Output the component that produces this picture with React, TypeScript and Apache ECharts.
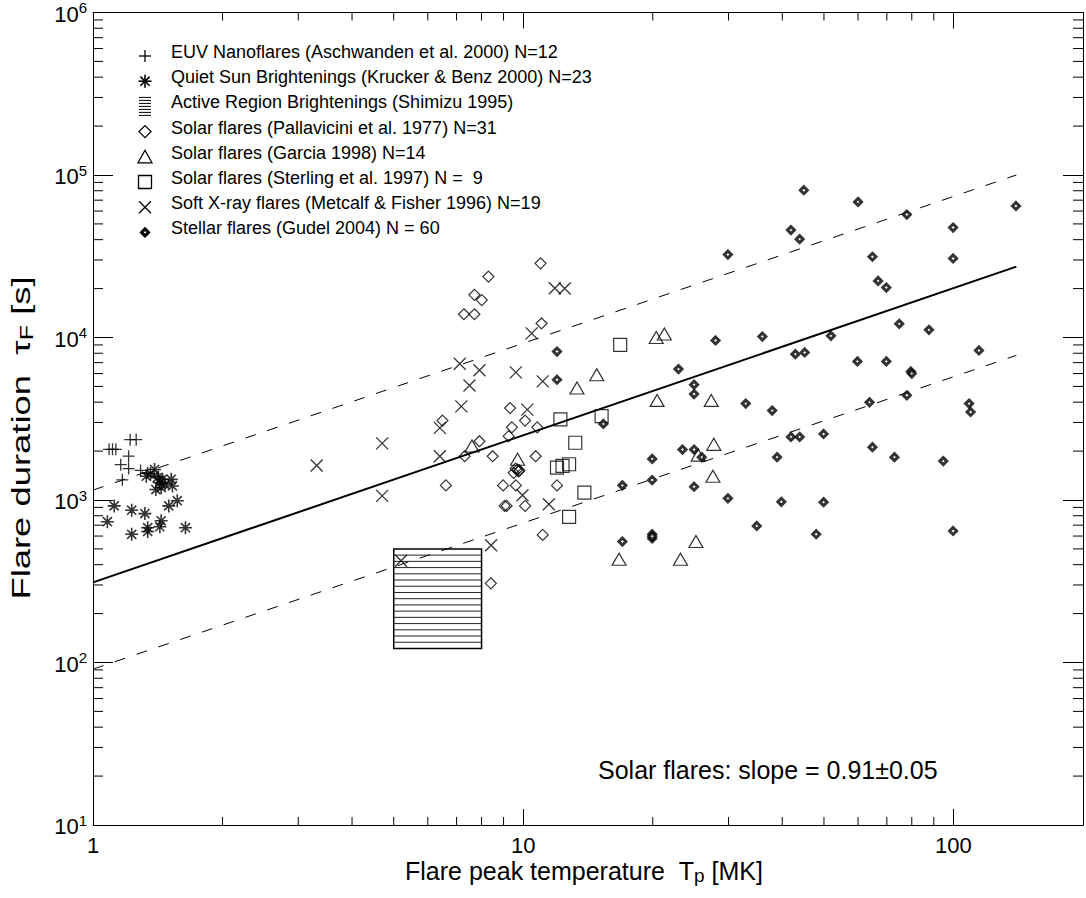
import React, { useEffect, useRef } from 'react';
import * as echarts from 'echarts';

const FONT = '"Liberation Sans", Arial, Helvetica, sans-serif';

// ---- axes ----
const xRange = [1, 200];
const yRange = [10, 1e6];
const xLabelValues = [1, 10, 100];
const xMinorTicks = [2, 3, 4, 5, 6, 7, 8, 9, 20, 30, 40, 50, 60, 70, 80, 90];
const yDecades = [10, 100, 1000, 10000, 100000];
const minorSteps = [2, 3, 4, 5, 6, 7, 8, 9];
const yMinorTicks = yDecades.flatMap((d) => minorSteps.map((m) => m * d));

// ---- data: [T (MK), tau (s)] ----
const euvNanoflares = [
  [1.09, 2050], [1.11, 2050], [1.13, 2050], [1.22, 2350], [1.26, 2350], [1.21, 1860],
  [1.16, 1650], [1.21, 1560], [1.29, 1520], [1.17, 1330], [1.34, 1470], [1.42, 1400],
];
const quietSun = [
  [1.39, 1540], [1.33, 1400], [1.43, 1280], [1.40, 1160], [1.52, 1340], [1.53, 1220],
  [1.45, 1340], [1.57, 990], [1.50, 920], [1.12, 920], [1.23, 865], [1.32, 825],
  [1.08, 735], [1.44, 745], [1.34, 675], [1.43, 685], [1.64, 675], [1.23, 615],
  [1.34, 640], [1.41, 1370], [1.44, 1190], [1.36, 1450], [1.47, 1250],
];
const pallavicini = [
  [10.97, 28600], [8.30, 23700], [7.70, 18300], [8.01, 17000], [7.28, 13900], [7.70, 13900],
  [11.03, 12200], [6.49, 3080], [9.32, 3680], [10.1, 3080], [9.41, 2800], [9.25, 2470],
  [10.78, 2800], [7.91, 2300], [8.49, 1860], [7.31, 1860], [10.69, 1860], [9.60, 1560],
  [9.70, 1540], [9.80, 1520], [9.75, 1500], [6.61, 1230], [8.98, 1230], [9.61, 1230],
  [11.98, 1230], [9.05, 920], [9.15, 920], [10.1, 920], [11.1, 610], [8.41, 307], [9.5, 1470],
];
const garcia = [
  [7.60, 2150], [9.70, 1780], [13.33, 4890], [14.82, 5900], [20.37, 10000], [21.28, 10500],
  [20.47, 4100], [27.35, 4100], [27.73, 2200], [25.5, 1890], [27.6, 1400], [25.2, 555],
  [16.7, 432], [23.2, 432],
];
const sterling = [
  [16.8, 9000], [12.2, 3130], [15.21, 3280], [13.21, 2250], [11.98, 1580], [12.34, 1620],
  [12.78, 1660], [13.87, 1110], [12.78, 787],
];
const metcalf = [
  [11.84, 20100], [12.48, 20000], [10.46, 10600], [7.12, 6900], [7.91, 6280], [9.61, 6100],
  [7.50, 5060], [11.1, 5370], [7.18, 3770], [10.22, 3600], [6.40, 2780], [4.70, 2230],
  [6.40, 1860], [4.70, 1060], [9.96, 1070], [11.47, 942], [8.42, 527], [5.20, 423], [3.31, 1630],
];
const stellar = [
  [11.98, 8200], [11.98, 5500], [15.35, 2940], [27.99, 9590], [35.96, 10140], [51.9, 10240],
  [74.8, 12130], [87.7, 11150], [114.6, 8320], [42.9, 7900], [45.1, 8090], [22.95, 6390],
  [59.8, 7125], [69.8, 7125], [79.6, 6180], [80.0, 6000], [24.95, 5125], [24.95, 4490],
  [32.9, 3920], [37.9, 3550], [63.8, 3990], [77.9, 4410], [108.7, 3920], [109.6, 3480],
  [41.9, 2445], [43.9, 2445], [49.9, 2550], [23.45, 2045], [24.95, 2045], [26.0, 1835],
  [19.94, 1790], [38.9, 1835], [64.8, 2115], [72.9, 1835], [94.7, 1735], [19.94, 1327],
  [17.0, 1231], [24.95, 1207], [29.9, 1024], [39.8, 975], [49.9, 970], [34.9, 692],
  [47.96, 616], [99.8, 645], [17.0, 555], [19.94, 616], [19.94, 580], [19.94, 598],
  [44.9, 80600], [60.0, 68300], [139.7, 64500], [77.9, 57100], [41.9, 45800], [43.9, 40300],
  [99.8, 47500], [29.9, 32400], [64.8, 31400], [99.8, 30650], [66.8, 22300], [69.8, 20300],
];

// fit lines (values at both ends)
const fitT = [1, 140];
const fitSolid = [311, 27300];
const fitUpper = [1150, 100000];
const fitLower = [91, 7760];

// Active region brightenings box: Tmin, Tmax, tauMin, tauMax
const activeRegionBox = [5, 8, 122, 500];

const legendLabels = [
  'EUV Nanoflares (Aschwanden et al. 2000) N=12',
  'Quiet Sun Brightenings (Krucker & Benz 2000) N=23',
  'Active Region Brightenings (Shimizu 1995)',
  'Solar flares (Pallavicini et al. 1977) N=31',
  'Solar flares (Garcia 1998) N=14',
  'Solar flares (Sterling et al. 1997) N =\u00A0\u00A09',
  'Soft X-ray flares (Metcalf & Fisher 1996) N=19',
  'Stellar flares (Gudel 2004) N = 60',
];
const legendKinds = ['plus', 'asterisk', 'hatch', 'diamond', 'triangle', 'square', 'cross', 'stellar'];
const slopeLabel = 'Solar flares: slope = 0.91\u00B10.05';

function measureText(text: string, size: number): number {
  const ctx = document.createElement('canvas').getContext('2d');
  if (!ctx) return text.length * size * 0.5;
  ctx.font = `${size}px "Liberation Sans"`;
  return ctx.measureText(text).width;
}

type Part = { t: string; size: number; dy: number };

function composeText(parts: Part[], cx: number, cy: number, rotate: boolean, stretch = 1) {
  const widths = parts.map((p) => measureText(p.t, p.size));
  const total = widths.reduce((a, b) => a + b, 0);
  let x = -total / 2;
  const children = parts.map((p, i) => {
    const el = {
      type: 'text',
      x,
      y: p.dy,
      silent: true,
      style: {
        text: p.t, fontSize: p.size, fontFamily: FONT, fill: '#000',
        align: 'left', verticalAlign: 'middle', lineHeight: Math.round(p.size * 0.8),
      },
    };
    x += widths[i];
    return el;
  });
  return {
    type: 'group', x: cx, y: cy, rotation: rotate ? Math.PI / 2 : 0,
    scaleX: stretch, scaleY: 1, children,
  };
}

function ln(x1: number, y1: number, x2: number, y2: number, w = 1.3) {
  return { type: 'line', silent: true, shape: { x1, y1, x2, y2 }, style: { stroke: '#000', lineWidth: w } };
}

function legendSymbol(kind: string, cx: number, cy: number): any[] {
  const open = { stroke: '#000', lineWidth: 1.3, fill: 'none' };
  switch (kind) {
    case 'plus':
      return [ln(cx - 6, cy, cx + 6, cy), ln(cx, cy - 6, cx, cy + 6)];
    case 'asterisk':
      return [
        ln(cx - 6.5, cy, cx + 6.5, cy, 1.6), ln(cx, cy - 6.5, cx, cy + 6.5, 1.6),
        ln(cx - 4.6, cy - 4.6, cx + 4.6, cy + 4.6, 1.6), ln(cx + 4.6, cy - 4.6, cx - 4.6, cy + 4.6, 1.6),
      ];
    case 'hatch':
      return [0, 1, 2, 3, 4, 5, 6].map((i) => ln(cx - 6, cy - 9 + i * 3, cx + 6, cy - 9 + i * 3, 1));
    case 'diamond':
      return [{ type: 'polygon', silent: true, shape: { points: [[cx, cy - 6], [cx + 6, cy], [cx, cy + 6], [cx - 6, cy]] }, style: open }];
    case 'triangle':
      return [{ type: 'polygon', silent: true, shape: { points: [[cx, cy - 6.5], [cx + 7, cy + 6], [cx - 7, cy + 6]] }, style: open }];
    case 'square':
      return [{ type: 'rect', silent: true, shape: { x: cx - 6.5, y: cy - 6.5, width: 13, height: 13 }, style: open }];
    case 'cross':
      return [ln(cx - 6, cy - 6, cx + 6, cy + 6), ln(cx + 6, cy - 6, cx - 6, cy + 6)];
    case 'stellar':
      return [{ type: 'polygon', silent: true, shape: { points: [[cx, cy - 3.5], [cx + 3.5, cy], [cx, cy + 3.5], [cx - 3.5, cy]] }, style: { stroke: '#000', lineWidth: 3, fill: '#fff' } }];
  }
  return [];
}

function buildOption() {
  const openStyle = (w: number) => ({ color: 'rgba(0,0,0,0)', borderColor: '#000', borderWidth: w });
  const scatterBase = { type: 'scatter', silent: true, xAxisIndex: 0, yAxisIndex: 0, z: 5 };

  const legendGraphics: any[] = [];
  legendLabels.forEach((label, i) => {
    const ty = 52 + 25.2 * i;
    legendGraphics.push(...legendSymbol(legendKinds[i], 145, ty + 4));
    legendGraphics.push({
      type: 'text', silent: true, x: 171, y: ty,
      style: { text: label, fontSize: 18, fontFamily: FONT, fill: '#000', align: 'left', verticalAlign: 'middle', lineHeight: 16 },
    });
  });

  const xTitle = composeText(
    [
      { t: 'Flare peak temperature\u00A0\u00A0T', size: 25, dy: 0 },
      { t: 'p', size: 19, dy: 4 },
      { t: '\u00A0[MK]', size: 25, dy: 0 },
    ],
    584, 871, false
  );
  const yTitle = composeText(
    [
      { t: 'Flare duration\u00A0\u00A0\u03C4', size: 26, dy: 0 },
      { t: 'F', size: 18, dy: 6 },
      { t: '\u00A0[s]', size: 26, dy: 0 },
    ],
    21, 438, true, 1.4
  );

  const axisCommonX = {
    type: 'log', logBase: 10, min: xRange[0], max: xRange[1],
    splitLine: { show: false }, minorTick: { show: false },
    axisLine: { show: true, onZero: false, lineStyle: { color: '#000', width: 1 } },
    axisTick: { show: true, inside: true, length: 16, lineStyle: { color: '#000', width: 1 } },
  };
  const axisCommonY = {
    type: 'log', logBase: 10, min: yRange[0], max: yRange[1],
    splitLine: { show: false }, minorTick: { show: false },
    axisLine: { show: true, onZero: false, lineStyle: { color: '#000', width: 1 } },
    axisTick: { show: true, inside: true, length: 20, lineStyle: { color: '#000', width: 1 } },
  };

  return {
    animation: false,
    backgroundColor: '#fff',
    grid: { left: 93, top: 10, width: 1000, height: 815, containLabel: false },
    xAxis: [
      {
        ...axisCommonX, position: 'bottom',
        axisLabel: {
          fontSize: 22, fontFamily: FONT, color: '#000', margin: 11, lineHeight: 18,
          formatter: (v: number) => (xLabelValues.some((l) => Math.abs(l - v) < 1e-6 * l) ? String(Math.round(v)) : ''),
        },
      },
      { ...axisCommonX, position: 'top', axisLabel: { show: false } },
    ],
    yAxis: [
      {
        ...axisCommonY, position: 'left',
        axisLabel: {
          margin: 6,
          formatter: (v: number) => `{b|10}{s|${Math.round(Math.log10(v))}}`,
          rich: {
            b: { fontSize: 22, fontFamily: FONT, color: '#000', verticalAlign: 'bottom' },
            s: { fontSize: 15, fontFamily: FONT, color: '#000', verticalAlign: 'bottom', padding: [0, 0, 10, 0] },
          },
        },
      },
      { ...axisCommonY, position: 'right', axisLabel: { show: false } },
    ],
    graphic: [
      ...legendGraphics,
      xTitle,
      yTitle,
      {
        type: 'text', silent: true, x: 598, y: 770,
        style: { text: slopeLabel, fontSize: 25, fontFamily: FONT, fill: '#000', align: 'left', verticalAlign: 'middle' },
      },
    ],
    series: [
      {
        type: 'custom', silent: true, xAxisIndex: 0, yAxisIndex: 0, z: 3,
        data: xMinorTicks.map((v) => [v, yRange[0]]),
        renderItem: (_p: any, api: any) => {
          const v = api.value(0);
          const b = api.coord([v, yRange[0]]);
          const t = api.coord([v, yRange[1]]);
          return {
            type: 'group',
            children: [
              { type: 'line', shape: { x1: b[0], y1: b[1], x2: b[0], y2: b[1] - 8 }, style: { stroke: '#000', lineWidth: 1 } },
              { type: 'line', shape: { x1: t[0], y1: t[1], x2: t[0], y2: t[1] + 8 }, style: { stroke: '#000', lineWidth: 1 } },
            ],
          };
        },
      },
      {
        type: 'custom', silent: true, xAxisIndex: 0, yAxisIndex: 0, z: 3,
        data: yMinorTicks.map((v) => [xRange[0], v]),
        renderItem: (_p: any, api: any) => {
          const v = api.value(1);
          const l = api.coord([xRange[0], v]);
          const r = api.coord([xRange[1], v]);
          return {
            type: 'group',
            children: [
              { type: 'line', shape: { x1: l[0], y1: l[1], x2: l[0] + 10, y2: l[1] }, style: { stroke: '#000', lineWidth: 1 } },
              { type: 'line', shape: { x1: r[0], y1: r[1], x2: r[0] - 10, y2: r[1] }, style: { stroke: '#000', lineWidth: 1 } },
            ],
          };
        },
      },
      {
        type: 'custom', silent: true, xAxisIndex: 0, yAxisIndex: 0, z: 4,
        data: [activeRegionBox],
        renderItem: (_p: any, api: any) => {
          const p0 = api.coord([api.value(0), api.value(3)]);
          const p1 = api.coord([api.value(1), api.value(2)]);
          const n = 16;
          const children: any[] = [
            { type: 'rect', shape: { x: p0[0], y: p0[1], width: p1[0] - p0[0], height: p1[1] - p0[1] }, style: { fill: 'none', stroke: '#000', lineWidth: 1.5 } },
          ];
          for (let i = 1; i < n; i++) {
            const y = p0[1] + (i * (p1[1] - p0[1])) / n;
            children.push({ type: 'line', shape: { x1: p0[0], y1: y, x2: p1[0], y2: y }, style: { stroke: '#222', lineWidth: 1 } });
          }
          return { type: 'group', children };
        },
      },
      {
        type: 'line', silent: true, z: 4, showSymbol: false, symbol: 'none',
        data: fitT.map((t, i) => [t, fitSolid[i]]),
        lineStyle: { color: '#000', width: 2 },
      },
      {
        type: 'line', silent: true, z: 4, showSymbol: false, symbol: 'none',
        data: fitT.map((t, i) => [t, fitUpper[i]]),
        lineStyle: { color: '#000', width: 1, type: [11, 12] },
      },
      {
        type: 'line', silent: true, z: 4, showSymbol: false, symbol: 'none',
        data: fitT.map((t, i) => [t, fitLower[i]]),
        lineStyle: { color: '#000', width: 1, type: [11, 12] },
      },
      { ...scatterBase, name: 'EUV', data: euvNanoflares, symbol: 'path://M5 0L5 10M0 5L10 5', symbolSize: 12, itemStyle: openStyle(1.3) },
      { ...scatterBase, name: 'QS', data: quietSun, symbol: 'path://M5 0L5 10M0 5L10 5M1.5 1.5L8.5 8.5M8.5 1.5L1.5 8.5', symbolSize: 13, itemStyle: openStyle(1.6) },
      { ...scatterBase, name: 'Pallavicini', data: pallavicini, symbol: 'diamond', symbolSize: 11, itemStyle: openStyle(1.2) },
      { ...scatterBase, name: 'Garcia', data: garcia, symbol: 'triangle', symbolSize: [14, 12], itemStyle: openStyle(1.2) },
      { ...scatterBase, name: 'Sterling', data: sterling, symbol: 'rect', symbolSize: 13, itemStyle: openStyle(1.2) },
      { ...scatterBase, name: 'Metcalf', data: metcalf, symbol: 'path://M0 0L10 10M10 0L0 10', symbolSize: 12, itemStyle: openStyle(1.3) },
      { ...scatterBase, name: 'Stellar', data: stellar, symbol: 'diamond', symbolSize: 7, itemStyle: { color: '#fff', borderColor: '#000', borderWidth: 3 } },
    ],
  };
}

export default function App() {
  const ref = useRef<HTMLDivElement>(null);
  useEffect(() => {
    if (!ref.current) return;
    const chart = echarts.init(ref.current, undefined, { renderer: 'svg' });
    chart.setOption(buildOption() as any);
    return () => chart.dispose();
  }, []);
  return (
    <div
      ref={ref}
      style={{ position: 'absolute', left: 0, top: 0, width: 1086, height: 898, overflow: 'hidden', background: '#fff' }}
    />
  );
}
